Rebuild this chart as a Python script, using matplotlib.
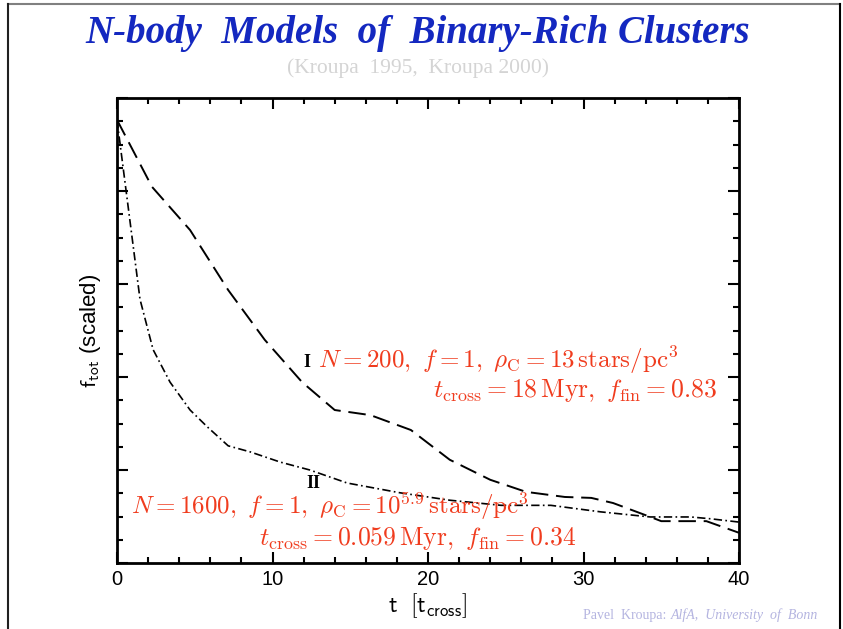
import numpy as np
import matplotlib.pyplot as plt
from matplotlib.lines import Line2D
from matplotlib.ticker import MultipleLocator

plt.rcParams['mathtext.fontset'] = 'cm'

# model I: N=200 cluster (dashed)
t_I = [0, 2.25, 4.7, 7.15, 9.5, 11.9, 14.0, 16.3, 18.9, 21.4, 24.0, 26.3,
       28.8, 30.5, 31.9, 34.3, 35.0, 37.9, 40]
f_I = [0.953, 0.809, 0.716, 0.587, 0.480, 0.389, 0.329, 0.318, 0.286, 0.222,
       0.179, 0.153, 0.142, 0.140, 0.129, 0.099, 0.090, 0.090, 0.065]

# model II: N=1600 cluster (dash-dot)
t_II = [0, 1.48, 2.32, 3.41, 4.70, 5.80, 7.15, 8.56, 10.5, 12.4, 14.8, 18.2,
        21.4, 24.7, 27.9, 31.1, 34.3, 36.9, 38.2, 40]
f_II = [0.953, 0.567, 0.459, 0.389, 0.329, 0.293, 0.252, 0.239, 0.217, 0.200,
        0.172, 0.151, 0.135, 0.124, 0.124, 0.110, 0.099, 0.099, 0.095, 0.088]

xticks = [0, 10, 20, 30, 40]

W, H = 843, 629
fig = plt.figure(figsize=(W / 100, H / 100), dpi=100)
ax = fig.add_axes([117 / W, 1 - 563 / H, 622 / W, 465 / H])

ax.plot(t_I, f_I, color='black', lw=1.4, dashes=(9, 4))
ax.plot(t_II, f_II, color='black', lw=1.2, dashes=(5, 2, 1, 2))

ax.set_xlim(0, 40)
ax.set_ylim(0, 1)
ax.set_xticks(xticks)
ax.xaxis.set_minor_locator(MultipleLocator(2))
ax.yaxis.set_major_locator(MultipleLocator(0.2))
ax.yaxis.set_minor_locator(MultipleLocator(0.05))
ax.tick_params(which='both', direction='in', top=True, right=True, width=1.5)
ax.tick_params(which='major', length=8, labelsize=14.5, pad=5)
ax.tick_params(which='minor', length=4)
ax.set_yticklabels([])
for tl in ax.get_xticklabels():
    tl.set_family('Liberation Sans')
for s in ax.spines.values():
    s.set_linewidth(2)

ax.set_xlabel(r'$\mathsf{t\ \ [t_{cross}]}$', fontsize=17, labelpad=2)
ax.set_ylabel(r'$\mathsf{f_{tot}}$ (scaled)', fontsize=16, family='Liberation Sans', labelpad=5)

red = '#f03c1e'
ax.text(12.2, 0.432, 'I', fontsize=13, fontweight='bold', family='Liberation Serif', ha='center', va='center')
ax.text(12.6, 0.172, 'II', fontsize=13, fontweight='bold', family='Liberation Serif', ha='center', va='center')
ax.text(12.95, 0.436, r'$N=200,\ f=1,\ \rho_{\rm C}=13\,{\rm stars/pc}^3$',
        color=red, fontsize=18, ha='left', va='center')
ax.text(38.6, 0.372, r'$t_{\rm cross}=18\,{\rm Myr},\ f_{\rm fin}=0.83$',
        color=red, fontsize=18.5, ha='right', va='center')
ax.text(0.9, 0.122, r'$N=1600,\ f=1,\ \rho_{\rm C}=10^{5.9}\,{\rm stars/pc}^3$',
        color=red, fontsize=18, ha='left', va='center')
ax.text(29.5, 0.052, r'$t_{\rm cross}=0.059\,{\rm Myr},\ f_{\rm fin}=0.34$',
        color=red, fontsize=18.5, ha='right', va='center')

fig.text(418 / W, 1 - 33 / H, 'N-body  Models  of  Binary-Rich Clusters',
         family='Liberation Serif', fontweight='bold', style='italic',
         fontsize=28, color='#1428c0', ha='center', va='center')
fig.text(418 / W, 1 - 68 / H, '(Kroupa  1995,  Kroupa 2000)',
         family='Liberation Serif', fontsize=15.5, color='#d4d4d4', ha='center', va='center')

# footer: italic institute flush right, plain name just before it
inst = fig.text(818 / W, 1 - 615 / H, 'AlfA,  University  of  Bonn', family='Liberation Serif',
                style='italic', fontsize=10, color='#b4b4e0', ha='right', va='center')
fig.canvas.draw()
x_start = inst.get_window_extent().x0 / W
fig.text(x_start - 4 / W, 1 - 615 / H, 'Pavel  Kroupa:', family='Liberation Serif',
         fontsize=10, color='#b4b4e0', ha='right', va='center')

# frame round the page
fig.add_artist(Line2D([8 / W, 840 / W], [1 - 4 / H, 1 - 4 / H], color='#808080', lw=1.5))
fig.add_artist(Line2D([8 / W, 8 / W], [0, 1 - 4 / H], color='#202020', lw=1.5))
fig.add_artist(Line2D([840 / W, 840 / W], [0, 1 - 4 / H], color='black', lw=1.5))

fig.savefig('out.png', dpi=100)
